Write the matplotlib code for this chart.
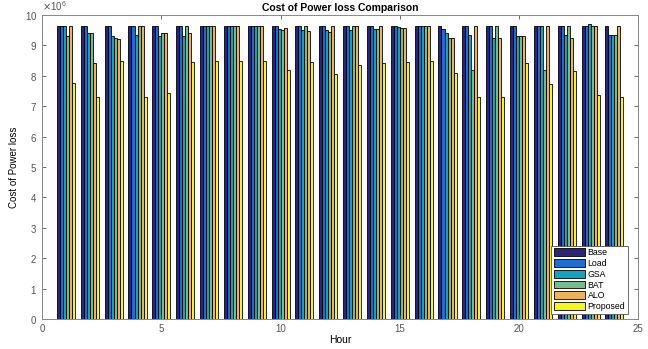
import matplotlib
matplotlib.use("Agg")
import matplotlib.pyplot as plt
import numpy as np

plt.rcParams['font.family'] = ['Liberation Sans', 'DejaVu Sans']

hours = list(range(1, 25))
series = ['Base', 'Load', 'GSA', 'BAT', 'ALO', 'Proposed']

# values in units of 10^6
base = [9.65] * 24
load = [9.65, 9.65, 9.65, 9.65, 9.65, 9.65, 9.65, 9.65, 9.65, 9.65, 9.65, 9.65,
        9.65, 9.65, 9.65, 9.65, 9.55, 9.65, 9.65, 9.65, 9.65, 9.65, 9.65, 9.35]
gsa = [9.65, 9.42, 9.3, 9.35, 9.3, 9.3, 9.65, 9.65, 9.65, 9.53, 9.5, 9.5,
       9.5, 9.55, 9.6, 9.65, 9.4, 9.35, 9.25, 9.3, 9.65, 9.35, 9.7, 9.35]
bat = [9.3, 9.42, 9.25, 9.65, 9.4, 9.65, 9.65, 9.65, 9.65, 9.5, 9.65, 9.45,
       9.65, 9.55, 9.58, 9.65, 9.25, 8.18, 9.65, 9.3, 8.2, 9.65, 9.65, 9.35]
alo = [9.65, 8.43, 9.2, 9.65, 9.4, 9.4, 9.65, 9.65, 9.65, 9.56, 9.48, 9.65,
       9.65, 9.65, 9.58, 9.65, 9.25, 9.65, 9.25, 9.3, 9.65, 9.25, 9.65, 9.65]
proposed = [7.77, 7.3, 8.5, 7.3, 7.45, 8.47, 8.5, 8.5, 8.48, 8.18, 8.47, 8.06,
            8.37, 8.43, 8.47, 8.5, 8.1, 7.3, 7.3, 8.43, 7.72, 8.15, 7.37, 7.3]

colors = ['#2a2578', '#1a6ed6', '#12a2c2', '#74bc8a', '#eeb25a', '#f8f41e']

data = [base, load, gsa, bat, alo, proposed]

fig = plt.figure(figsize=(6.48, 3.49), dpi=100)
ax = fig.add_axes([0.065, 0.086, 0.92, 0.871])

x = np.array(hours, dtype=float)
n = len(series)
w = 0.126
for i, (name, vals, c) in enumerate(zip(series, data, colors)):
    off = (i - (n - 1) / 2) * w
    ax.bar(x + off, np.array(vals) * 1e6, width=w, color=c, edgecolor='black',
           linewidth=0.6, label=name)

ax.set_xlim(0, 25)
ax.set_ylim(0, 1e7)
ax.set_xticks([0, 5, 10, 15, 20, 25])
ax.set_yticks(np.arange(0, 11) * 1e6)
ax.ticklabel_format(style='sci', axis='y', scilimits=(6, 6), useMathText=True)
ax.yaxis.get_offset_text().set_fontsize(7)
ax.yaxis.get_offset_text().set_color('#555555')

ax.tick_params(direction='in', length=3, width=0.6, labelsize=7,
               colors='#555555', top=True, right=True)
for s in ax.spines.values():
    s.set_color('#888888')
    s.set_linewidth(0.7)

ax.set_title('Cost of Power loss Comparison', fontsize=7.5, fontweight='bold', pad=3)
ax.set_xlabel('Hour', fontsize=7.5, labelpad=1)
ax.set_ylabel('Cost of Power loss', fontsize=7, labelpad=4)

leg = ax.legend(loc='lower right', fontsize=6.3, handlelength=3.6, handleheight=1.0,
                borderpad=0.3, labelspacing=0.2, handletextpad=0.3,
                fancybox=False, framealpha=1, edgecolor='#555555',
                bbox_to_anchor=(0.99, 0.003))
leg.get_frame().set_linewidth(0.6)

fig.savefig('out.png', dpi=100)
